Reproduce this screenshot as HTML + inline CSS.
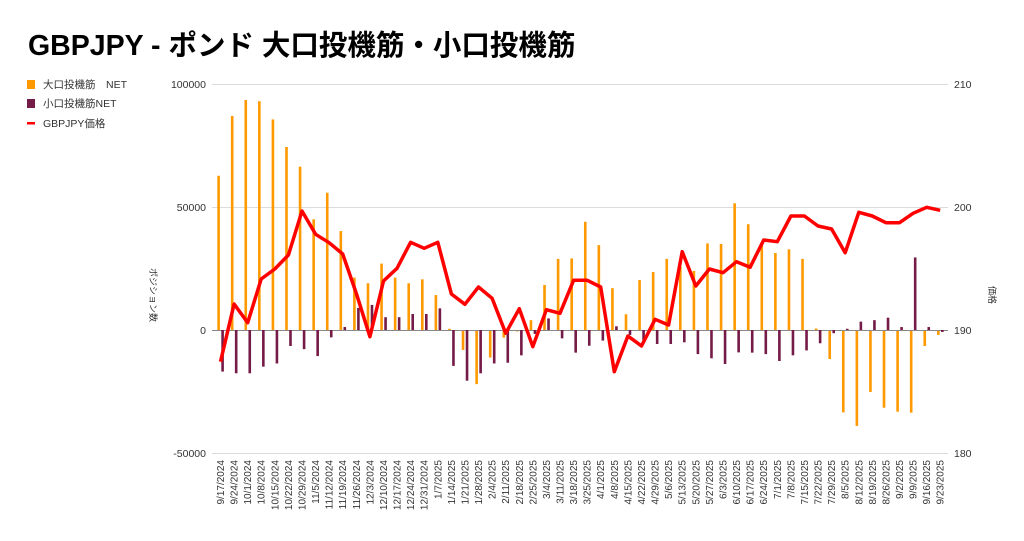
<!DOCTYPE html>
<html><head><meta charset="utf-8"><style>
body{margin:0;background:#fff;width:1024px;height:536px;overflow:hidden;font-family:"Liberation Sans","Noto Sans CJK JP",sans-serif}
</style></head><body>
<svg id="s" width="1024" height="536" xmlns="http://www.w3.org/2000/svg" font-family="Liberation Sans, Noto Sans CJK JP, sans-serif">
<text x="28" y="55" font-size="28.5" font-weight="bold" fill="#000">GBPJPY - ポンド 大口投機筋・小口投機筋</text>
<rect x="27" y="80" width="8" height="9" fill="#ff9900"/>
<text x="43" y="88" font-size="10.5" fill="#333">大口投機筋　NET</text>
<rect x="27" y="99" width="8" height="9" fill="#741b47"/>
<text x="43" y="107" font-size="10.5" fill="#333">小口投機筋NET</text>
<rect x="27" y="122" width="8" height="2.5" fill="#ff0000"/>
<text x="43" y="127" font-size="10.5" fill="#333">GBPJPY価格</text>
<g stroke="#dcdcdc" stroke-width="1">
<line x1="212" x2="948" y1="84.5" y2="84.5"/>
<line x1="212" x2="948" y1="207.5" y2="207.5"/>
<line x1="212" x2="948" y1="453.5" y2="453.5"/>
</g>
<g font-size="10.5" fill="#333" text-anchor="end">
<text x="206" y="88">100000</text><text x="206" y="211">50000</text><text x="206" y="334">0</text><text x="206" y="457">-50000</text>
</g>
<g font-size="10.5" fill="#333">
<text x="954" y="88">210</text><text x="954" y="211">200</text><text x="954" y="334">190</text><text x="954" y="457">180</text>
</g>
<text transform="translate(150,295) rotate(90)" font-size="9" fill="#333" text-anchor="middle">ポジション数</text>
<text transform="translate(989,295) rotate(90)" font-size="9" fill="#333" text-anchor="middle">価格</text>
<g id="bars"></g>
<line x1="212" x2="948" y1="330.5" y2="330.5" stroke="#888" stroke-width="1"/>
<g id="purp"></g>
<polyline id="ln" fill="none" stroke="#ff0000" stroke-width="3.5" stroke-linejoin="round"/>
<g id="lab" font-size="10" fill="#333"></g>
</svg>
<script>
var o=[62700,87000,93500,93000,85600,74400,66400,45000,55800,40200,21300,19000,27000,21300,19000,20600,14200,500,-8100,-22000,-11200,-3100,-600,4000,18300,28900,29100,44000,34500,17000,6400,20300,23600,28900,25700,24000,35200,35000,51500,43000,34500,31300,32800,28900,600,-11800,-33500,-39000,-25200,-31600,-33200,-33600,-6500,-2000];
var p=[-16900,-17600,-17600,-14900,-13600,-6500,-7800,-10600,-3000,1200,9000,10200,5200,5200,6500,6500,8800,-14600,-20600,-17600,-13600,-13300,-10300,-1600,4700,-3400,-9200,-6400,-4300,1500,-2000,-4100,-5700,-5700,-5000,-9800,-11500,-13800,-9100,-9200,-9800,-12600,-10300,-8300,-5400,-1300,500,3400,4000,5000,1200,29500,1200,-800];
var ly=[361.7,304,322.7,279,269,255,211,234.3,242.7,254,293.3,336.7,281,268.3,242.3,248.3,242.3,294,304.3,287,298.3,333.3,308.7,346.7,309.7,313.3,280.3,280.3,287,371.7,336,346,319.3,325,251.7,286,269,272.7,261.7,267.3,240,241.7,216,216,226,229,252.7,212.3,216,222.7,222.7,213.3,207.3,210.3];
var NS="http://www.w3.org/2000/svg";
function el(t,a,par){var e=document.createElementNS(NS,t);for(var k in a)e.setAttribute(k,a[k]);document.getElementById(par).appendChild(e);return e;}
var d=new Date(2024,8,17),pts=[];
for(var i=0;i<54;i++){
 var x=220.5+13.58*i;
 var h=o[i]/406.5;
 el('rect',{x:x-3.2,y:h>0?330-h:330,width:2.6,height:Math.abs(h),fill:'#ff9900'},'bars');
 var q=p[i]/406.5;
 el('rect',{x:x+0.8,y:q>0?330-q:330,width:2.6,height:Math.abs(q),fill:'#741b47'},'purp');
 pts.push(x.toFixed(1)+','+ly[i]);
 var s=(d.getMonth()+1)+'/'+d.getDate()+'/'+d.getFullYear();
 var t=el('text',{transform:'translate('+(x+3.5)+',460) rotate(-90)','text-anchor':'end'},'lab');t.textContent=s;
 d.setDate(d.getDate()+7);
}
document.getElementById('ln').setAttribute('points',pts.join(' '));
</script>
</body></html>
